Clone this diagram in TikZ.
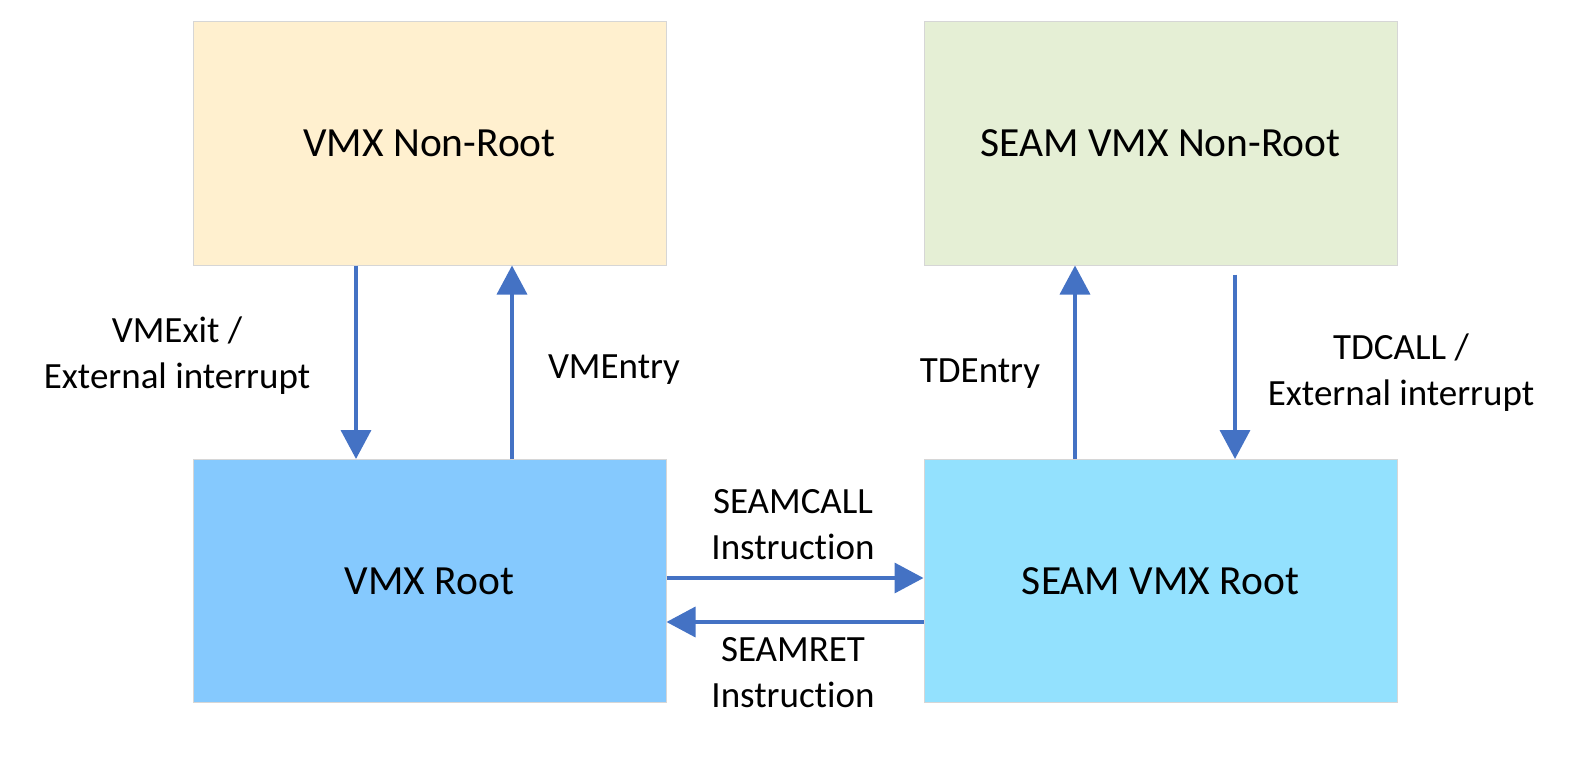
\documentclass[tikz,border=0pt]{standalone}
\usepackage{fontspec}
\setmainfont[Ligatures=NoCommon,RawFeature={-liga;-dlig}]{Carlito}
\usetikzlibrary{arrows.meta}
\definecolor{cNR}{HTML}{FFF0CF}
\definecolor{cSNR}{HTML}{E5EFD5}
\definecolor{cR}{HTML}{85C9FE}
\definecolor{cSR}{HTML}{93E1FE}
\definecolor{cBorder}{HTML}{D6D6D6}
\definecolor{cArrow}{HTML}{4472C4}
\tikzset{
  box/.style={draw=cBorder, line width=1pt, minimum width=473pt, minimum height=243pt,
    inner sep=0pt, font=\fontsize{41.5}{49}\selectfont},
  arr/.style={draw=cArrow, line width=3.6pt, -{Triangle[length=29pt,width=30pt]}},
  lbl/.style={font=\fontsize{37}{46}\selectfont, align=center, inner sep=0pt}
}
\begin{document}
\begin{tikzpicture}[x=1pt,y=-1pt]
\useasboundingbox (0,0) rectangle (1578,759);
\node[box, fill=cNR] (nr) at (429.5,143.5) {VMX Non-Root};
\node[box, fill=cSNR] (snr) at (1160.5,143.5) {SEAM VMX Non-Root};
\node[box, fill=cR] (r) at (429.5,581) {VMX Root};
\node[box, fill=cSR] (sr) at (1160.5,581) {SEAM VMX Root};
% vertical arrows
\draw[arr] ([xshift=-73.5pt]nr.south) -- ([xshift=-73.5pt]r.north);
\draw[arr] ([xshift=82.5pt]r.north) -- ([xshift=82.5pt]nr.south);
\draw[arr] ([xshift=-85.5pt]sr.north) -- ([xshift=-85.5pt]snr.south);
\draw[arr] ([xshift=74.5pt,yshift=-9pt]snr.south) -- ([xshift=74.5pt]sr.north);
% horizontal arrows
\draw[arr] ([yshift=3pt]r.east) -- ([yshift=3pt]sr.west);
\draw[arr] ([yshift=-41pt]sr.west) -- ([yshift=-41pt]r.west -| r.east);
% labels
\node[lbl] (l1) at (177,356) {VMExit /\\External interrupt};
\node[lbl] (l2) at (614,370) {VMEntry};
\node[lbl] (l3) at (980,374) {TDEntry};
\node[lbl] (l4) at (1401,373) {TDCALL /\\External interrupt};
\node[lbl] (l5) at (793,525) {SEAMCALL\\Instruction};
\node[lbl] (l6) at (793,673) {SEAMRET\\Instruction};
\end{tikzpicture}
\end{document}
